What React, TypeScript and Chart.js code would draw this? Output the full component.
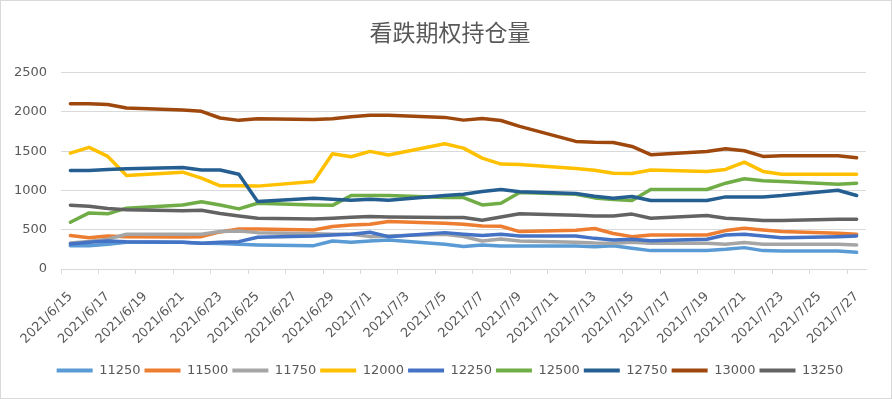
import React, { useEffect, useRef } from 'react';
import { Chart, registerables } from 'chart.js';

Chart.register(...registerables);

// Trading days with data
const tradingDates = [
  '2021/6/15', '2021/6/16', '2021/6/17', '2021/6/18',
  '2021/6/21', '2021/6/22', '2021/6/23', '2021/6/24', '2021/6/25',
  '2021/6/28', '2021/6/29', '2021/6/30', '2021/7/1', '2021/7/2',
  '2021/7/5', '2021/7/6', '2021/7/7', '2021/7/8', '2021/7/9',
  '2021/7/12', '2021/7/13', '2021/7/14', '2021/7/15', '2021/7/16',
  '2021/7/19', '2021/7/20', '2021/7/21', '2021/7/22', '2021/7/23',
  '2021/7/26', '2021/7/27',
];

const s11250 = [297, 297, 314, 340, 340, 327, 323, 314, 306, 297, 357, 342, 357, 370, 314, 285, 306, 293, 293, 293, 283, 297, 263, 234, 234, 250, 272, 234, 230, 230, 212];
const s11500 = [425, 399, 420, 412, 408, 412, 472, 510, 510, 497, 540, 561, 570, 604, 583, 570, 546, 544, 476, 493, 516, 452, 412, 433, 433, 489, 518, 497, 476, 455, 442];
const s11750 = [330, 350, 380, 442, 442, 442, 476, 485, 463, 450, 442, 442, 412, 421, 442, 412, 357, 382, 357, 340, 330, 327, 340, 327, 327, 314, 336, 314, 314, 314, 306];
const s12000 = [1475, 1548, 1433, 1190, 1233, 1156, 1059, 1059, 1055, 1114, 1467, 1429, 1497, 1450, 1595, 1539, 1411, 1335, 1331, 1280, 1258, 1220, 1216, 1259, 1242, 1267, 1360, 1242, 1207, 1207, 1207];
const s12250 = [319, 340, 357, 348, 340, 327, 340, 348, 404, 421, 433, 442, 467, 412, 463, 442, 425, 442, 421, 421, 390, 370, 378, 361, 378, 433, 442, 421, 399, 412, 421];
const s12500 = [595, 714, 702, 774, 815, 855, 815, 765, 837, 815, 810, 935, 937, 937, 910, 910, 815, 837, 975, 952, 905, 884, 871, 1012, 1012, 1092, 1148, 1122, 1114, 1080, 1092];
const s12750 = [1254, 1254, 1267, 1276, 1291, 1261, 1261, 1207, 859, 901, 888, 875, 888, 875, 935, 952, 986, 1012, 984, 961, 925, 901, 922, 871, 871, 918, 918, 918, 935, 1003, 935];
const s13000 = [2105, 2105, 2093, 2049, 2024, 2007, 1922, 1892, 1914, 1902, 1913, 1939, 1956, 1956, 1930, 1895, 1916, 1890, 1816, 1624, 1614, 1611, 1560, 1455, 1497, 1531, 1505, 1433, 1441, 1441, 1416];
const s13250 = [812, 799, 770, 753, 740, 748, 706, 676, 646, 638, 646, 659, 668, 663, 655, 655, 621, 663, 703, 685, 674, 674, 699, 646, 680, 646, 634, 616, 616, 634, 634];

const seriesNames = ['11250', '11500', '11750', '12000', '12250', '12500', '12750', '13000', '13250'];
const seriesValues = [s11250, s11500, s11750, s12000, s12250, s12500, s12750, s13000, s13250];
const seriesColors = ['#5B9BD5', '#ED7D31', '#A5A5A5', '#FFC000', '#4472C4', '#70AD47', '#255E91', '#9E480E', '#636363'];

const startDate = '2021/6/15';
const endDate = '2021/7/27';
const yTicks = [0, 500, 1000, 1500, 2000, 2500];
const titleText = '看跌期权持仓量';

function parseDate(s: string) {
  const [y, m, d] = s.split('/').map(Number);
  return Date.UTC(y, m - 1, d);
}
function fmt(t: number) {
  const d = new Date(t);
  return `${d.getUTCFullYear()}/${d.getUTCMonth() + 1}/${d.getUTCDate()}`;
}
function buildCalendar(a: string, b: string) {
  const out: string[] = [];
  for (let t = parseDate(a); t <= parseDate(b); t += 86400000) out.push(fmt(t));
  return out;
}

const FONT = "'DejaVu Sans', sans-serif";
const TEXT = '#595959';
const GRID = '#d9d9d9';

export default function App() {
  const ref = useRef<HTMLCanvasElement>(null);
  useEffect(() => {
    const labels = buildCalendar(startDate, endDate);
    const datasets = seriesNames.map((name, i) => {
      const data = labels.map((l) => {
        const k = tradingDates.indexOf(l);
        return k >= 0 ? seriesValues[i][k] : null;
      });
      return {
        label: name,
        data,
        borderColor: seriesColors[i],
        backgroundColor: seriesColors[i],
        borderWidth: 3.5,
        pointRadius: 0,
        pointHoverRadius: 0,
        tension: 0,
        spanGaps: true,
        borderJoinStyle: 'round' as const,
        borderCapStyle: 'round' as const,
        order: seriesNames.length - 1 - i,
      };
    });
    const chart = new Chart(ref.current!, {
      type: 'line',
      data: { labels, datasets },
      options: {
        animation: false,
        responsive: false,
        layout: { padding: { left: 8, right: 0, top: 0, bottom: 12 } },
        plugins: {
          title: {
            display: true,
            text: titleText,
            color: TEXT,
            font: { family: "'Noto Sans CJK SC', sans-serif", size: 23, weight: 'normal' },
            padding: { top: 18, bottom: 27 },
          },
          legend: {
            position: 'bottom',
            labels: {
              color: TEXT,
              font: { family: FONT, size: 13 },
              boxWidth: 36,
              boxHeight: 4,
              padding: 4,
              sort: (a: any, b: any) => a.datasetIndex - b.datasetIndex,
              generateLabels: (c: any) =>
                Chart.defaults.plugins.legend.labels.generateLabels(c).map((l: any) => ({ ...l, lineWidth: 0 })),
            },
          },
          tooltip: { enabled: false },
        },
        scales: {
          x: {
            type: 'category',
            offset: true,
            afterFit: (s: any) => { s.height = 91; },
            grid: {
              offset: true,
              drawOnChartArea: false,
              drawTicks: true,
              tickLength: 5,
              color: (ctx: any) => (ctx.index % 2 === 0 && ctx.index < labels.length ? GRID : 'rgba(0,0,0,0)'),
            },
            border: { display: true, color: GRID, width: 1 },
            ticks: {
              autoSkip: false,
              minRotation: 45,
              maxRotation: 45,
              padding: 15,
              color: TEXT,
              font: { family: FONT, size: 13 },
              callback: (_v: any, i: number) => (i % 2 === 0 ? labels[i] : ''),
            },
          },
          y: {
            min: yTicks[0],
            max: yTicks[yTicks.length - 1],
            afterFit: (s: any) => { s.width = 53; },
            afterBuildTicks: (s: any) => { s.ticks = yTicks.map((v) => ({ value: v })); },
            grid: { color: GRID, lineWidth: 1, drawTicks: false },
            border: { display: false },
            ticks: {
              padding: 14,
              color: TEXT,
              font: { family: FONT, size: 13 },
              callback: (v: any) => String(v),
            },
          },
          yR: {
            type: 'linear',
            position: 'right',
            display: true,
            afterFit: (s: any) => { s.width = 26; },
            grid: { display: false, drawTicks: false },
            border: { display: false },
            ticks: { display: false },
          },
        },
      },
    });
    return () => chart.destroy();
  }, []);

  return (
    <div style={{ position: 'absolute', left: 0, top: 0, width: 892, height: 399, background: '#fff' }}>
      <canvas ref={ref} width={892} height={399} style={{ width: 892, height: 399, display: 'block' }} />
      <div style={{ position: 'absolute', left: 0, top: 0, width: 892, height: 399, boxSizing: 'border-box', border: '1px solid #d9d9d9', pointerEvents: 'none' }} />
    </div>
  );
}
